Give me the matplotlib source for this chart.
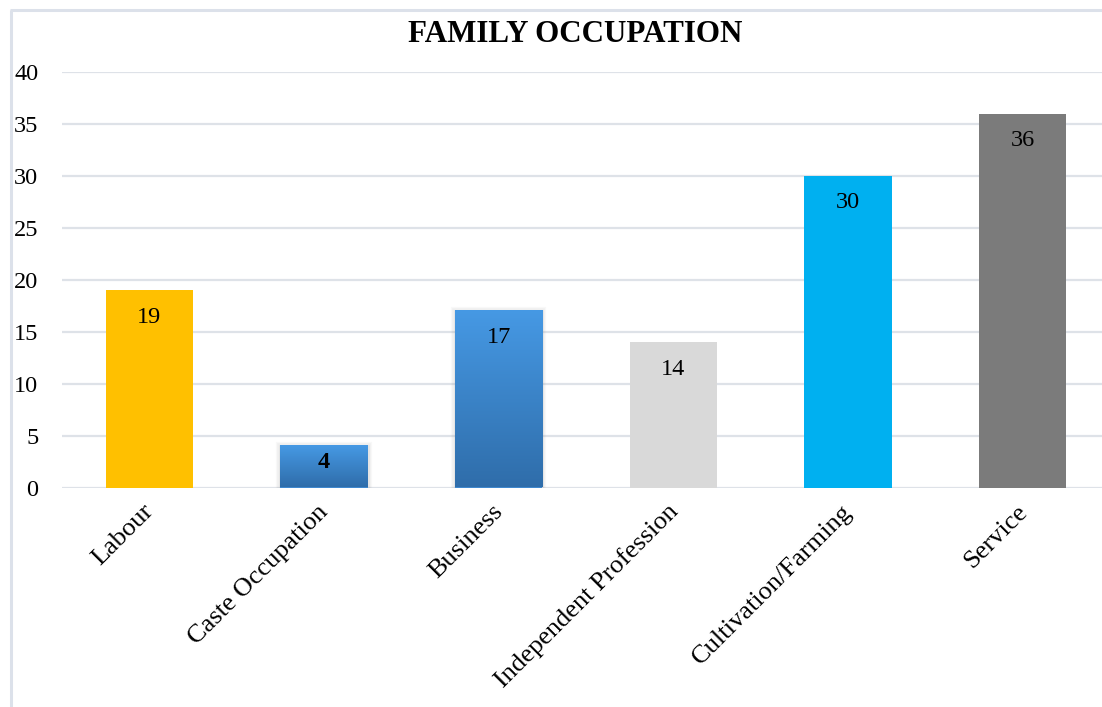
import matplotlib
matplotlib.use("Agg")
import matplotlib.pyplot as plt
import matplotlib.transforms as mtransforms
from matplotlib.lines import Line2D
import numpy as np

categories = ["Labour", "Caste Occupation", "Business", "Independent Profession",
              "Cultivation/Farming", "Service"]
values = [19, 4, 17, 14, 30, 36]
colors = ["#FFC000", "#3F88CF", "#3F88CF", "#D9D9D9", "#00B0F0", "#7B7B7B"]
gradient = [False, True, True, False, False, False]
yticks = [0, 5, 10, 15, 20, 25, 30, 35, 40]
title = "FAMILY OCCUPATION"

plt.rcParams['font.family'] = ['Liberation Serif', 'DejaVu Serif']

W, H = 1102, 707
fig = plt.figure(figsize=(W / 100, H / 100), dpi=100)
fig.patch.set_facecolor("white")

# outer chart frame (left and top edges visible)
frame_c = "#DCE1EA"
fig.add_artist(Line2D([11 / W, 11 / W], [-0.1, 1 - 10 / H], transform=fig.transFigure,
                      color=frame_c, lw=2.2, solid_capstyle="butt"))
fig.add_artist(Line2D([10 / W, 1.1], [1 - 10 / H, 1 - 10 / H], transform=fig.transFigure,
                      color=frame_c, lw=2.2, solid_capstyle="butt"))

left, right = 62 / W, 1110 / W
bottom, top = (H - 487.5) / H, (H - 72) / H
ax = fig.add_axes([left, bottom, right - left, top - bottom])
ax.set_xlim(-0.5, len(categories) - 0.5)
ax.set_ylim(0, 40)
for s in ax.spines.values():
    s.set_visible(False)

ax.set_yticks(yticks)
ax.set_yticklabels([str(t) for t in yticks], fontsize=17.5)
ax.tick_params(axis='y', length=0, pad=17)
ax.yaxis.grid(True, color="#DEE2E8", lw=1.6)
ax.set_axisbelow(True)

x = np.arange(len(categories))
bw = 0.5
bars = ax.bar(x, values, width=bw, color=colors, zorder=3)

# gradient fills for the blue bars, with soft shadow
grad_cmap = matplotlib.colors.LinearSegmentedColormap.from_list("g", ["#2F6DAA", "#4699E4"])
for b, g in zip(bars, gradient):
    if not g:
        continue
    x0, y0 = b.get_x(), b.get_y()
    w, h = b.get_width(), b.get_height()
    for k, a in [(3, 0.05), (2, 0.07), (1, 0.09)]:
        sh = matplotlib.patches.Rectangle((x0, y0), w, h, facecolor="none",
                                          edgecolor="#808080", lw=k * 2, alpha=a, zorder=2)
        ax.add_patch(sh)
    grad = np.linspace(0, 1, 256).reshape(-1, 1)
    ax.imshow(grad, extent=(x0, x0 + w, y0, y0 + h), origin="lower", aspect="auto",
              cmap=grad_cmap, zorder=3.5, interpolation="bilinear")
ax.set_xlim(-0.5, len(categories) - 0.5)
ax.set_ylim(0, 40)

px_per_unit = (487.5 - 72) / 40.0
for xi, v in zip(x, values):
    bar_px = v * px_per_unit
    dy = 27 if bar_px > 60 else bar_px / 2 - 4
    wt = "normal" if bar_px > 60 else "bold"
    ax.annotate(str(v), (xi, v), xytext=(0, -dy), textcoords="offset pixels",
                ha="center", va="center", fontsize=17.5, color="black", zorder=5,
                fontweight=wt)

ax.set_xticks(x)
ax.set_xticklabels(categories, fontsize=19, rotation=45, ha="right",
                   rotation_mode="anchor", va="center")
ax.tick_params(axis='x', length=0, pad=15)
off = mtransforms.ScaledTranslation(1 / 100, 0, fig.dpi_scale_trans)
for lab in ax.get_xticklabels():
    lab.set_transform(lab.get_transform() + off)

fig.text(575 / W, 1 - 34 / H, title, ha="center", va="center", fontsize=22.3,
         fontweight="bold")

fig.savefig("out.png", dpi=100, facecolor="white")
